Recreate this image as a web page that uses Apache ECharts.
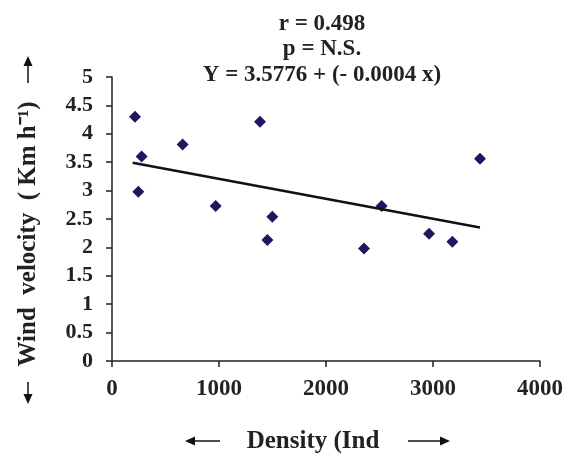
<!DOCTYPE html>
<html><head><meta charset="utf-8">
<script src="https://cdn.jsdelivr.net/npm/echarts@6/dist/echarts.min.js"></script>
<style>html,body{margin:0;padding:0;background:#fff}#c{width:572px;height:455px}</style>
</head><body><div id="c"></div>
<script>
const densityX = [215, 277, 246, 660, 969, 1383, 1498, 1452, 2355, 2520, 2963, 3181, 3439];
const windY = [4.30, 3.60, 2.98, 3.81, 2.73, 4.21, 2.54, 2.13, 1.98, 2.73, 2.24, 2.10, 3.56];
const trendX = [193, 3439];
const trendY = [3.49, 2.35];
const titleLines = ['r = 0.498', 'p = N.S.', 'Y = 3.5776 + (- 0.0004 x)'];
const xName = 'Density (Ind';
const yName = 'Wind  velocity  ( Km h\u207B\u00B9)';

const font = 'Liberation Serif';
const chart = echarts.init(document.getElementById('c'));
const arrowStyle = {stroke: '#111', lineWidth: 1.5};
function arrow(x1, y1, x2, y2) {
  const dx = x2 - x1, dy = y2 - y1, L = Math.hypot(dx, dy), ux = dx / L, uy = dy / L;
  const hl = 10, hw = 4.5;
  const bx = x2 - ux * hl, by = y2 - uy * hl;
  return [
    {type: 'line', shape: {x1, y1, x2: bx, y2: by}, style: arrowStyle},
    {type: 'polygon', shape: {points: [[x2, y2], [bx - uy * hw, by + ux * hw], [bx + uy * hw, by - ux * hw]]}, style: {fill: '#111'}}
  ];
}
chart.setOption({
  animation: false,
  title: {
    text: titleLines.join('\n'), left: 317, top: 6, textAlign: 'center',
    textStyle: {fontFamily: font, fontWeight: 'bold', fontSize: 23, lineHeight: 25.5, color: '#222'}
  },
  grid: {left: 112, right: 32, top: 77, bottom: 94, outerBoundsMode: 'none', containLabel: false},
  xAxis: {
    type: 'value', min: 0, max: 4000, interval: 1000,
    name: xName, nameLocation: 'middle', nameGap: 68,
    nameTextStyle: {fontFamily: font, fontWeight: 'bold', fontSize: 25, color: '#222', padding: [0, 26, 0, 0]},
    axisLine: {lineStyle: {color: '#222', width: 1.5}},
    axisTick: {show: true, length: 6, lineStyle: {color: '#222', width: 1.5}},
    axisLabel: {fontFamily: font, fontWeight: 'bold', fontSize: 23, color: '#222', margin: 17, formatter: v => String(v)},
    splitLine: {show: false}
  },
  yAxis: {
    type: 'value', min: 0, max: 5, interval: 0.5,
    axisLine: {show: true, lineStyle: {color: '#222', width: 1.5}},
    axisTick: {show: true, length: 6, lineStyle: {color: '#222', width: 1.5}},
    axisLabel: {fontFamily: font, fontWeight: 'bold', fontSize: 22, color: '#222', margin: 19},
    splitLine: {show: false}
  },
  graphic: [
    {type: 'text', x: 29, y: 234, rotation: Math.PI / 2,
     style: {text: yName, font: 'bold 25px "Liberation Serif"', fill: '#222', textAlign: 'center', textVerticalAlign: 'middle'}},
    ...arrow(28, 83, 28, 56),
    ...arrow(28, 382, 28, 404),
    ...arrow(220, 441, 185, 441),
    ...arrow(408, 441, 450, 441)
  ],
  series: [
    {type: 'scatter', symbol: 'diamond', symbolSize: 12,
     itemStyle: {color: '#1c1960', opacity: 1},
     data: densityX.map((x, i) => [x, windY[i]])},
    {type: 'line', symbol: 'none', lineStyle: {color: '#111', width: 2.5},
     data: trendX.map((x, i) => [x, trendY[i]])}
  ]
});
</script></body></html>
